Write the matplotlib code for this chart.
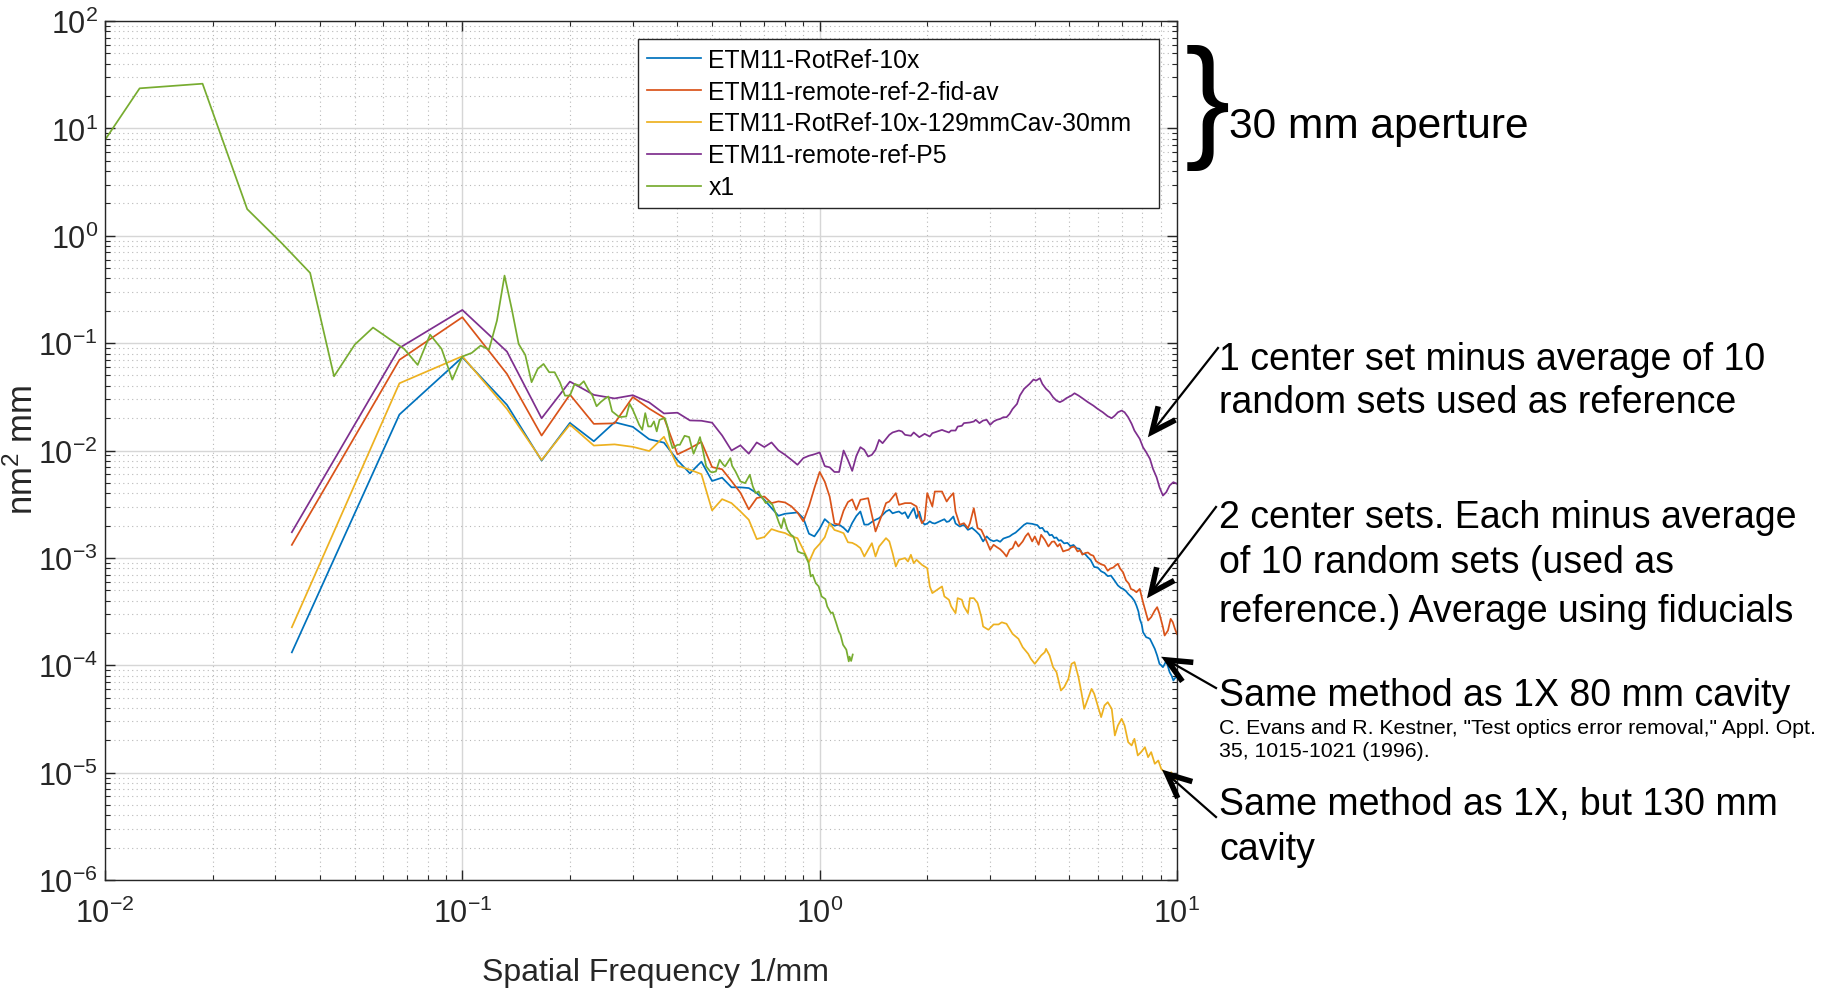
import numpy as np
import matplotlib
matplotlib.use("Agg")
import matplotlib.pyplot as plt
from matplotlib.ticker import LogLocator, NullFormatter
from matplotlib.lines import Line2D

plt.rcParams['font.family'] = ['Liberation Sans', 'DejaVu Sans']
plt.rcParams['mathtext.fontset'] = 'custom'
plt.rcParams['mathtext.rm'] = 'Liberation Sans'
plt.rcParams['mathtext.it'] = 'Liberation Sans:italic'
plt.rcParams['mathtext.bf'] = 'Liberation Sans:bold'

# frequency bin widths (1/mm): 30 mm aperture data and the x1 (80 mm cavity) data
df_30 = 1 / 30.0
df_x1 = 1 / 160.0

# PSD values as log10(nm^2 mm) at bin index k
blue_k = [1, 2, 3, 4, 5, 6, 7, 8, 9, 10, 11, 12, 13, 14, 15, 16, 17, 18, 19, 20,
          21, 22, 23, 24, 25, 26, 27, 28, 29, 30, 31, 32, 33, 34, 35, 36, 37, 38, 39, 40,
          41, 42, 43, 44, 45, 46, 47, 48, 49, 50, 51, 52, 53, 54, 55, 56, 57, 58, 59, 60,
          61, 62, 63, 65, 67, 68, 69, 71, 72, 74, 76, 78, 80, 82, 84, 86, 88, 90, 92, 94,
          96, 98, 100, 102, 104, 106, 108, 110, 112, 114, 116, 118, 120, 122, 124, 126, 128, 130, 132, 134,
          136, 138, 140, 142, 145, 148, 151, 154, 157, 160, 163, 166, 169, 172, 176, 180, 184, 188, 192, 196,
          200, 205, 209, 212, 216, 219, 224, 228, 231, 234, 236, 239, 241, 244, 246, 249, 252, 256, 260, 264,
          268, 271, 274, 277, 280, 283, 286, 290, 293, 296, 300]
blue_log = [-3.88, -1.665, -1.132, -1.575, -2.094, -1.743, -1.914, -1.737, -1.78, -1.895,
            -1.927, -2.09, -2.213, -2.104, -2.284, -2.253, -2.343, -2.343, -2.35, -2.397,
            -2.459, -2.536, -2.608, -2.589, -2.583, -2.577, -2.63, -2.775, -2.80, -2.729,
            -2.639, -2.68, -2.70, -2.69, -2.72, -2.76, -2.675, -2.61, -2.568, -2.69,
            -2.69, -2.665, -2.645, -2.63, -2.60, -2.568, -2.552, -2.585, -2.575, -2.568,
            -2.59, -2.575, -2.63, -2.58, -2.537, -2.63, -2.57, -2.66, -2.69, -2.68,
            -2.66, -2.675, -2.68, -2.66, -2.64, -2.665, -2.66, -2.615, -2.68, -2.708,
            -2.692, -2.739, -2.72, -2.75, -2.785, -2.847, -2.80, -2.832, -2.845, -2.835,
            -2.85, -2.82, -2.81, -2.80, -2.78, -2.765, -2.74, -2.715, -2.692, -2.677,
            -2.68, -2.683, -2.69, -2.695, -2.725, -2.72, -2.755, -2.755, -2.79, -2.785,
            -2.815, -2.81, -2.84, -2.835, -2.865, -2.86, -2.89, -2.88, -2.91, -2.915,
            -2.96, -2.965, -2.995, -3.02, -3.085, -3.09, -3.125, -3.14, -3.17, -3.165,
            -3.205, -3.257, -3.28, -3.289, -3.31, -3.335, -3.366, -3.40, -3.444, -3.50,
            -3.568, -3.62, -3.692, -3.72, -3.739, -3.745, -3.754, -3.80, -3.847, -3.91,
            -3.987, -4.0, -4.018, -3.99, -3.956, -4.01, -4.064, -4.10, -4.142, -4.12, -4.11]

orange_k = [1, 2, 3, 4, 5, 6, 7, 8, 9, 10, 11, 12, 13, 14, 15, 16, 17, 18, 19, 20,
            21, 22, 23, 24, 25, 26, 27, 28, 29, 30, 31, 32, 33, 34, 35, 36, 37, 38, 39, 41,
            42, 43, 45, 46, 47, 49, 50, 52, 54, 56, 57, 58, 59, 60, 62, 63, 66, 68, 69, 71,
            72, 74, 76, 78, 79, 81, 83, 85, 88, 90, 92, 94, 96, 98, 100, 102, 104, 106, 108, 111,
            113, 115, 118, 120, 123, 125, 128, 131, 134, 136, 139, 141, 144, 147, 149, 152, 155, 158, 161, 163,
            166, 169, 172, 175, 178, 181, 184, 188, 192, 195, 199, 202, 205, 208, 212, 216, 220, 223, 227, 231,
            236, 241, 246, 249, 254, 260, 264, 268, 274, 277, 283, 288, 292, 296, 300]
orange_log = [-2.879, -1.156, -0.759, -1.287, -1.861, -1.479, -1.752, -1.747, -1.502, -1.61,
              -1.694, -2.036, -1.98, -1.92, -2.155, -2.175, -2.285, -2.393, -2.548, -2.443,
              -2.428, -2.49, -2.474, -2.484, -2.52, -2.577, -2.66, -2.52, -2.35, -2.20,
              -2.29, -2.43, -2.68, -2.69, -2.56, -2.48, -2.455, -2.552, -2.459, -2.444,
              -2.599, -2.754, -2.583, -2.49, -2.475, -2.397, -2.506, -2.49, -2.49, -2.521,
              -2.615, -2.677, -2.646, -2.397, -2.521, -2.382, -2.382, -2.475, -2.444, -2.397,
              -2.568, -2.692, -2.677, -2.723, -2.677, -2.537, -2.723, -2.739, -2.847, -2.925,
              -2.878, -2.90, -2.92, -2.95, -2.987, -2.925, -2.909, -2.847, -2.894, -2.847,
              -2.80, -2.77, -2.847, -2.80, -2.878, -2.785, -2.832, -2.894, -2.85, -2.847,
              -2.894, -2.87, -2.94, -2.93, -2.925, -2.90, -2.895, -2.94, -2.93, -2.97,
              -2.955, -2.95, -2.971, -2.98, -3.03, -3.045, -3.06, -3.07, -3.12, -3.10,
              -3.09, -3.07, -3.055, -3.10, -3.135, -3.21, -3.24, -3.29, -3.30, -3.32,
              -3.289, -3.413, -3.521, -3.583, -3.552, -3.49, -3.459, -3.521, -3.645, -3.723,
              -3.677, -3.568, -3.599, -3.66, -3.71]

yellow_k = [1, 2, 3, 4, 5, 6, 7, 8, 9, 10, 11, 12, 13, 14, 15, 16, 17, 18, 19, 20,
            21, 22, 23, 24, 25, 26, 27, 28, 29, 30, 31, 32, 33, 34, 35, 36, 37, 38, 39, 40,
            41, 42, 43, 44, 46, 47, 48, 49, 50, 52, 53, 54, 55, 56, 58, 60, 61, 62, 64, 66,
            67, 69, 70, 72, 73, 75, 76, 78, 79, 81, 83, 85, 86, 89, 92, 95, 97, 100, 102, 104,
            108, 111, 115, 117, 120, 122, 125, 128, 129, 132, 135, 138, 142, 145, 149, 152, 155, 159, 162, 165,
            169, 173, 176, 180, 184, 188, 192, 197, 201, 205, 210, 214, 219, 224, 228, 233, 238, 244, 249, 254,
            260, 266, 271, 277, 283, 289, 296, 300]
yellow_log = [-3.646, -1.374, -1.122, -1.613, -2.088, -1.759, -1.954, -1.943, -1.966, -2.005,
              -1.872, -2.142, -2.179, -2.22, -2.558, -2.453, -2.49, -2.567, -2.645, -2.825,
              -2.806, -2.732, -2.754, -2.769, -2.80, -2.816, -2.924, -3.039, -2.924, -2.87,
              -2.808, -2.677, -2.74, -2.754, -2.77, -2.855, -2.86, -2.88, -2.909, -2.987,
              -2.925, -2.863, -2.987, -2.894, -2.816, -2.847, -2.956, -3.08, -3.018, -3.002,
              -3.034, -2.971, -3.049, -3.018, -3.065, -3.096, -3.266, -3.328, -3.297, -3.266,
              -3.359, -3.39, -3.452, -3.515, -3.375, -3.39, -3.452, -3.515, -3.375, -3.375,
              -3.421, -3.546, -3.639, -3.67, -3.62, -3.62, -3.60, -3.614, -3.661, -3.708,
              -3.754, -3.832, -3.894, -3.94, -3.987, -3.956, -3.909, -3.878, -3.847, -3.909,
              -4.018, -4.064, -4.235, -4.204, -4.127, -3.987, -3.971, -4.111, -4.251, -4.406,
              -4.313, -4.22, -4.266, -4.375, -4.483, -4.375, -4.344, -4.406, -4.654, -4.561,
              -4.499, -4.561, -4.716, -4.747, -4.685, -4.84, -4.809, -4.763, -4.856, -4.809,
              -4.918, -4.887, -4.965, -4.996, -5.027, -4.996, -5.058, -5.06]

purple_k = [1, 2, 3, 4, 5, 6, 7, 8, 9, 10, 11, 12, 13, 14, 15, 16, 17, 18, 19, 20,
            21, 22, 23, 24, 25, 26, 27, 28, 29, 30, 31, 32, 33, 34, 35, 36, 37, 38, 39, 40,
            41, 42, 43, 44, 45, 47, 48, 50, 51, 52, 54, 55, 57, 59, 61, 62, 64, 66, 67, 69,
            70, 72, 73, 75, 76, 79, 81, 82, 84, 86, 88, 90, 92, 94, 96, 98, 100, 102, 104, 107,
            109, 112, 116, 119, 121, 124, 126, 129, 132, 135, 138, 141, 144, 147, 152, 155, 159, 164, 169, 175,
            180, 186, 192, 197, 201, 205, 210, 214, 219, 224, 228, 236, 241, 246, 252, 257, 263, 268, 274, 280,
            286, 293, 300]
purple_log = [-2.761, -1.045, -0.691, -1.079, -1.70, -1.358, -1.482, -1.515, -1.485, -1.552,
              -1.655, -1.648, -1.72, -1.723, -1.741, -1.86, -2.0, -1.952, -2.03, -1.925,
              -1.968, -1.925, -1.999, -2.04, -2.086, -2.133, -2.071, -2.049, -2.035, -2.018,
              -2.145, -2.157, -2.2, -2.2, -2.0, -2.09, -2.19, -2.05, -1.969, -1.994,
              -2.056, -2.04, -1.994, -1.901, -1.932, -1.854, -1.832, -1.814, -1.823, -1.854,
              -1.863, -1.832, -1.876, -1.845, -1.87, -1.839, -1.823, -1.808, -1.817, -1.832,
              -1.814, -1.814, -1.777, -1.77, -1.745, -1.739, -1.73, -1.714, -1.745, -1.721,
              -1.714, -1.761, -1.73, -1.714, -1.706, -1.69, -1.69, -1.659, -1.613, -1.566,
              -1.488, -1.426, -1.38, -1.339, -1.349, -1.327, -1.38, -1.426, -1.457, -1.504,
              -1.535, -1.55, -1.535, -1.513, -1.488, -1.467, -1.488, -1.519, -1.55, -1.582,
              -1.613, -1.644, -1.681, -1.699, -1.675, -1.644, -1.628, -1.644, -1.69, -1.752,
              -1.814, -1.892, -1.97, -2.016, -2.078, -2.171, -2.249, -2.342, -2.42, -2.388,
              -2.326, -2.295, -2.31]

green_k = [1, 2, 3, 4, 5, 6, 7, 8, 9, 10, 11, 12, 13, 14, 15, 16, 17, 18, 19, 20,
           21, 22, 23, 24, 25, 26, 27, 28, 29, 30, 31, 32, 33, 34, 35, 36, 37, 38, 39, 40,
           41, 42, 44, 46, 47, 48, 50, 51, 52, 53, 54, 55, 56, 57, 59, 60, 61, 62, 64, 65,
           67, 69, 70, 71, 73, 74, 75, 77, 79, 80, 82, 84, 86, 87, 90, 91, 93, 96, 99, 102,
           104, 106, 108, 109, 110, 113, 115, 118, 120, 123, 125, 127, 130, 133, 135, 137, 139, 142, 145, 149,
           151, 153, 156, 159, 162, 166, 168, 172, 174, 178, 181, 183, 186, 190, 193, 194, 196, 198]
green_log = [-0.12, 1.373, 1.416, 0.248, -0.07, -0.346, -1.309, -1.014, -0.855, -0.961,
             -1.054, -1.203, -0.921, -1.054, -1.34, -1.125, -1.091, -1.023, -1.06, -0.79,
             -0.371, -0.682, -1.008, -1.11, -1.364, -1.24, -1.194, -1.271, -1.271, -1.364,
             -1.489, -1.489, -1.38, -1.395, -1.355, -1.43, -1.489, -1.588, -1.55, -1.52,
             -1.497, -1.636, -1.689, -1.683, -1.565, -1.621, -1.76, -1.807, -1.652, -1.776,
             -1.776, -1.729, -1.822, -1.714, -1.698, -1.776, -1.90, -1.978, -1.947, -1.947,
             -1.863, -1.875, -1.956, -2.03, -1.931, -1.875, -1.962, -2.148, -2.195, -2.204,
             -2.195, -2.086, -2.133, -2.148, -2.071, -2.142, -2.195, -2.288, -2.304, -2.226,
             -2.335, -2.397, -2.381, -2.412, -2.428, -2.49, -2.474, -2.505, -2.567, -2.67,
             -2.723, -2.629, -2.738, -2.785, -2.80, -2.862, -2.94, -2.955, -2.961, -3.048,
             -3.173, -3.157, -3.235, -3.266, -3.359, -3.384, -3.452, -3.514, -3.508, -3.607,
             -3.685, -3.716, -3.809, -3.855, -3.964, -3.92, -3.96, -3.90]

labels = ['ETM11-RotRef-10x', 'ETM11-remote-ref-2-fid-av',
          'ETM11-RotRef-10x-129mmCav-30mm', 'ETM11-remote-ref-P5', 'x1']
colors = ['#0072BD', '#D95319', '#EDB120', '#7E2F8E', '#77AC30']

series = [(blue_k, blue_log, df_30), (orange_k, orange_log, df_30),
          (yellow_k, yellow_log, df_30), (purple_k, purple_log, df_30),
          (green_k, green_log, df_x1)]

W, H = 1824, 995
fig = plt.figure(figsize=(W / 100, H / 100), dpi=100)
ax = fig.add_axes([105 / W, 114 / H, 1072 / W, 859 / H])

for (k, lg, df), lab, c in zip(series, labels, colors):
    f = np.array(k) * df
    ax.plot(f, 10.0 ** np.array(lg), color=c, lw=1.25, label=lab)

ax.set_xscale('log')
ax.set_yscale('log')
ax.set_xlim(1e-2, 1e1)
ax.set_ylim(1e-6, 1e2)
ax.xaxis.set_major_locator(LogLocator(base=10, numticks=10))
ax.yaxis.set_major_locator(LogLocator(base=10, numticks=20))
for a in (ax.xaxis, ax.yaxis):
    a.set_minor_locator(LogLocator(base=10, subs=np.arange(2, 10), numticks=100))
    a.set_minor_formatter(NullFormatter())

ax.set_axisbelow(True)
ax.grid(True, which='major', color='#d6d6d6', lw=1.0)
ax.grid(True, which='minor', color='#b8b8b8', lw=0.8, ls=(0, (1, 3)))
ax.tick_params(which='both', direction='in', top=True, right=True,
               colors='#262626', labelsize=22)
ax.tick_params(which='major', length=7, width=1)
ax.tick_params(which='minor', length=3.5, width=0.8)
ax.tick_params(axis='x', pad=13)
ax.tick_params(axis='y', pad=5)
for s in ax.spines.values():
    s.set_color('#262626')
    s.set_linewidth(1.0)

leg = ax.legend(loc='upper left', bbox_to_anchor=(638 / W, 1 - 206 / H, 521 / W, 166 / H),
                bbox_transform=fig.transFigure, mode='expand', fontsize=17.8,
                fancybox=False, edgecolor='#262626', framealpha=1, borderaxespad=0,
                handlelength=2.2, handletextpad=0.3, labelspacing=0.32, borderpad=0.35)
leg.get_frame().set_linewidth(1.0)

# axis labels
fig.text(656 / W, 1 - 973 / H, 'Spatial Frequency 1/mm', fontsize=23,
         ha='center', va='center', color='#262626')
fig.text(23 / W, 1 - 450 / H, 'nm$^2$ mm', fontsize=25, rotation=90,
         ha='center', va='center', color='#262626')


def ftext(x, y, s, size):
    fig.text(x / W, 1 - y / H, s, fontsize=size, ha='left', va='center', color='black')


def arrow(tail, head):
    tx, ty = tail[0], H - tail[1]
    hx, hy = head[0], H - head[1]
    fig.add_artist(Line2D([tx / W, hx / W], [ty / H, hy / H], transform=fig.transFigure,
                          color='black', lw=1.6))
    u = np.array([tx - hx, ty - hy], dtype=float)
    u /= np.hypot(*u)
    n = np.array([-u[1], u[0]])
    p1 = np.array([hx, hy]) + 24 * u + 11 * n
    p2 = np.array([hx, hy]) + 24 * u - 11 * n
    fig.add_artist(Line2D([p1[0] / W, hx / W, p2[0] / W], [p1[1] / H, hy / H, p2[1] / H],
                          transform=fig.transFigure, color='black', lw=4,
                          solid_joinstyle='miter', solid_capstyle='butt'))


fig.text(1207 / W, 1 - 108 / H, '}', fontsize=98,
         ha='center', va='center', color='black')
ftext(1229, 127, '30 mm aperture', 30.6)

ftext(1219, 360, '1 center set minus average of 10', 27)
ftext(1219, 403, 'random sets used as reference', 27)
arrow((1218, 349), (1152, 433))

ftext(1219, 518, '2 center sets. Each minus average', 27)
ftext(1219, 563, 'of 10 random sets (used as', 27)
ftext(1219, 612, 'reference.) Average using fiducials', 27)
arrow((1216, 508), (1151, 594))

ftext(1219, 696, 'Same method as 1X 80 mm cavity', 27)
ftext(1219, 728, 'C. Evans and R. Kestner, "Test optics error removal," Appl. Opt.', 15.3)
ftext(1219, 752, '35, 1015-1021 (1996).', 15.3)
arrow((1216, 689), (1167, 661))

ftext(1219, 805, 'Same method as 1X, but 130 mm', 27)
ftext(1219, 850, 'cavity', 27)
arrow((1216, 818), (1167, 775))

fig.savefig('out.png', dpi=100)
